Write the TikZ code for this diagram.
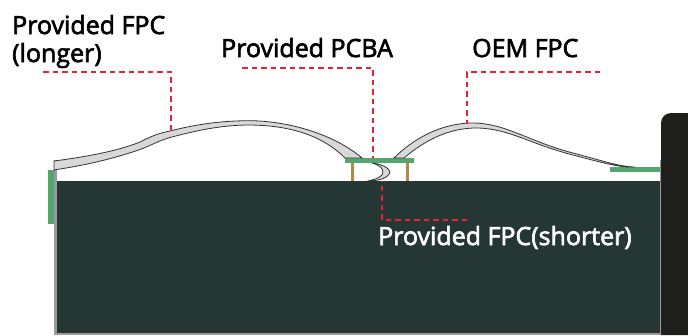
\documentclass[tikz,border=0pt]{standalone}
\usepackage{fontspec}
\setmainfont[FakeBold=2.5]{Open Sans}
\usetikzlibrary{positioning}
\definecolor{casecolor}{HTML}{243734}
\definecolor{boardcolor}{HTML}{55A66E}
\definecolor{legcolor}{HTML}{B08A40}
\definecolor{leadcolor}{HTML}{E8232F}
\definecolor{blockcolor}{HTML}{1E1E1C}
\definecolor{fpccolor}{HTML}{D8D8D8}
\definecolor{framecolor}{HTML}{9A9A9A}
\tikzset{
  fpc/.style={draw=black!80, line width=0.8pt, fill=fpccolor},
  lead/.style={draw=leadcolor, line width=1.1pt, dash pattern=on 5.5pt off 4pt},
  label/.style={anchor=base west, inner sep=0pt, font=\fontsize{25}{25}\selectfont},
}

\begin{document}
\begin{tikzpicture}[x=1pt,y=-1pt]
      \useasboundingbox (0,0) rectangle (688,335);

      %% The case
      \fill[casecolor] (57,181) rectangle (661,333);
      \fill[framecolor] (54,160) rectangle (57,335);
      \fill[framecolor] (54,333) rectangle (661,335);
      \fill[framecolor] (660,160) rectangle (661,335);
      \fill[boardcolor] (48,170) rectangle (54,224);
      \fill[boardcolor] (610,167) rectangle (660,172);

      %% The block on the right
      \fill[blockcolor] (688,113) -- (671,113) to[out=180,in=90] (661,123) -- (661,335) -- (688,335) -- cycle;

      %% PCBA and its legs
      \fill[legcolor] (351,163) rectangle (354,181);
      \fill[legcolor] (406,163) rectangle (409,181);
      \fill[boardcolor] (345,158) rectangle (414,163);

      %% Longer FPC
      \draw[fpc] (54,161) .. controls (85,157) and (118,151) .. (140,142)
        .. controls (147,138.5) and (155,134) .. (170,131)
        .. controls (190,126) and (215,120.7) .. (250,120.7)
        .. controls (290,121) and (335,135) .. (362,158)
        -- (345,158) .. controls (325,138) and (295,125.5) .. (250,125)
        .. controls (220,125) and (195,131) .. (170,137.5)
        .. controls (158,141) and (152,145) .. (140,149.5)
        .. controls (110,160) and (80,166) .. (54,170) -- cycle;

      %% OEM FPC
      \draw[fpc] (394,158) .. controls (412,140) and (440,123) .. (473,123)
        .. controls (505,123) and (530,142) .. (573,153)
        .. controls (600,160) and (620,167) .. (635,167)
        .. controls (620,168) and (600,162) .. (573,155)
        .. controls (530,144) and (510,129) .. (478,128)
        .. controls (450,127.5) and (425,140) .. (404,158) -- cycle;

      %% Shorter FPC
      \draw[fpc] (372,163) .. controls (382,164) and (389,168) .. (390,172)
        .. controls (389,178) and (378,181) .. (368,181)
        .. controls (376,179) and (383,177) .. (383,172)
        .. controls (383,168) and (379,165) .. (372,163) -- cycle;

      %% Labels
      \node[label] (longerA) at (12,34) {Provided FPC};
      \node[label] (longerB) at (12,62) {(longer)};
      \node[label] (pcba) at (221,57) {Provided PCBA};
      \node[label] (oem) at (472,57) {OEM FPC};
      \node[label,text=white] (shorter) at (378,245) {Provided FPC(shorter)};

      %% Leaders
      \coordinate (longerend) at (43,72);
      \coordinate (longertip) at (171,133);
      \coordinate (pcbaend) at (242,68);
      \coordinate (pcbatip) at (373,158);
      \coordinate (oemend) at (600,72);
      \coordinate (oemtip) at (467,124);
      \coordinate (shorterend) at (467,220);
      \coordinate (shortertip) at (382,181);
      \draw[lead] (longerend) -| (longertip);
      \draw[lead] (pcbaend) -| (pcbatip);
      \draw[lead] (oemend) -| (oemtip);
      \draw[lead] (shorterend) -| (shortertip);
    \end{tikzpicture}
\end{document}
